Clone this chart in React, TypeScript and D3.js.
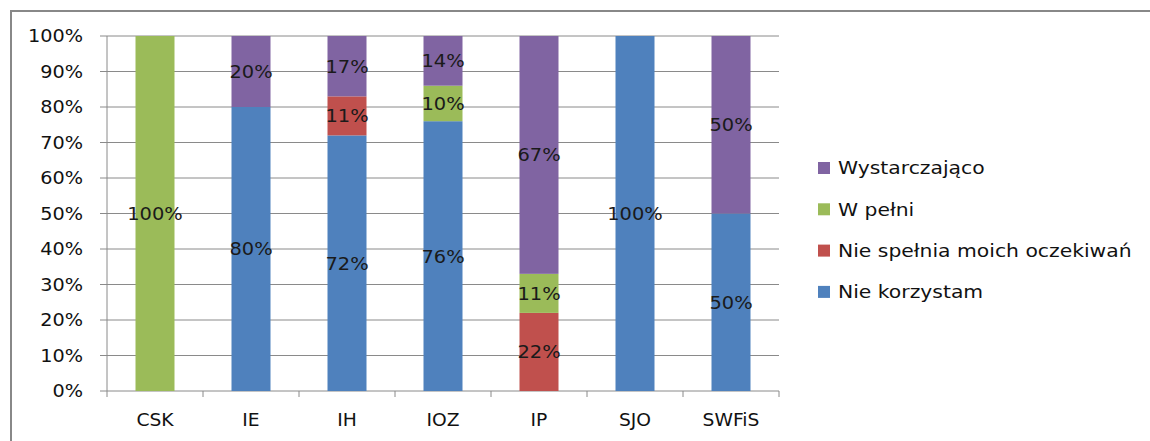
import React from "react";
import * as d3 from "d3";

const categories = ["CSK", "IE", "IH", "IOZ", "IP", "SJO", "SWFiS"];
const seriesNames = ["Nie korzystam", "Nie spełnia moich oczekiwań", "W pełni", "Wystarczająco"];
const nieKorzystam = [0, 80, 72, 76, 0, 100, 50];
const nieSpelnia = [0, 0, 11, 0, 22, 0, 0];
const wPelni = [100, 0, 0, 10, 11, 0, 0];
const wystarczajaco = [0, 20, 17, 14, 67, 0, 50];
const colors = ["#4F81BD", "#C0504D", "#9BBB59", "#8064A2"];
const yTicks = [0, 10, 20, 30, 40, 50, 60, 70, 80, 90, 100];

const W = 1150, H = 441;
const plotL = 107, plotR = 779, plotT = 36, plotB = 391;
const FONT = "'DejaVu Sans', sans-serif";
const FS = 18;

function T({ x, y, sx = 1.08, anchor = "start", children, fill = "#111" }: any) {
  return (
    <text transform={`translate(${x},${y}) scale(${sx},1)`} dy="0.36em" textAnchor={anchor} fontSize={FS} fill={fill}>
      {children}
    </text>
  );
}

export default function App() {
  const xOuter = d3.scaleBand<string>().domain(categories).range([plotL, plotR]);
  const y = d3.scaleLinear().domain([0, 100]).range([plotB, plotT]);
  const table = categories.map((c, i) => ({
    cat: c,
    s0: nieKorzystam[i], s1: nieSpelnia[i], s2: wPelni[i], s3: wystarczajaco[i],
  }));
  const stack = d3.stack<any>().keys(["s0", "s1", "s2", "s3"]);
  const layers = stack(table);
  const bw = 39;
  const cxOf = (c: string) => xOuter(c)! + xOuter.bandwidth() / 2;

  return (
    <svg width={W} height={H} style={{ position: "absolute", left: 0, top: 0 }} fontFamily={FONT}>
      <rect x={0} y={0} width={W} height={H} fill="#fff" />
      <rect x={11} y={11} width={1300} height={700} fill="none" stroke="#888" strokeWidth={2} />
      {yTicks.map((t) => (
        <g key={t}>
          <line x1={plotL - 7} x2={plotR} y1={y(t)} y2={y(t)} stroke="#8a8a8a" strokeWidth={1} />
          <T x={83} y={y(t)} anchor="end" sx={1.07}>{t}%</T>
        </g>
      ))}
      <line x1={plotL} x2={plotL} y1={plotT} y2={plotB} stroke="#8a8a8a" />
      {categories.map((c) => (
        <line key={c} x1={xOuter(c)!} x2={xOuter(c)!} y1={plotB} y2={plotB + 6} stroke="#8a8a8a" />
      ))}
      <line x1={plotR} x2={plotR} y1={plotB} y2={plotB + 6} stroke="#8a8a8a" />
      {layers.map((layer, li) => (
        <g key={li}>
          {layer.map((d, j) => {
            const v = d[1] - d[0];
            if (v <= 0) return null;
            const cx = cxOf(categories[j]);
            return <rect key={j} x={cx - bw / 2} y={y(d[1])} width={bw} height={y(d[0]) - y(d[1])} fill={colors[li]} />;
          })}
        </g>
      ))}
      {layers.map((layer, li) => (
        <g key={"l" + li}>
          {layer.map((d, j) => {
            const v = d[1] - d[0];
            if (v <= 0) return null;
            return (
              <T key={j} x={cxOf(categories[j])} y={y((d[0] + d[1]) / 2)} anchor="middle" fill="#1a1a1a">{v}%</T>
            );
          })}
        </g>
      ))}
      {categories.map((c) => (
        <T key={c} x={cxOf(c)} y={420} anchor="middle" sx={1.04}>{c}</T>
      ))}
      {[3, 2, 1, 0].map((si, k) => (
        <g key={si} transform={`translate(818, ${168 + k * 41.3})`}>
          <rect x={0} y={-6} width={12} height={12} fill={colors[si]} />
          <T x={20} y={0} sx={1.13}>{seriesNames[si]}</T>
        </g>
      ))}
    </svg>
  );
}
